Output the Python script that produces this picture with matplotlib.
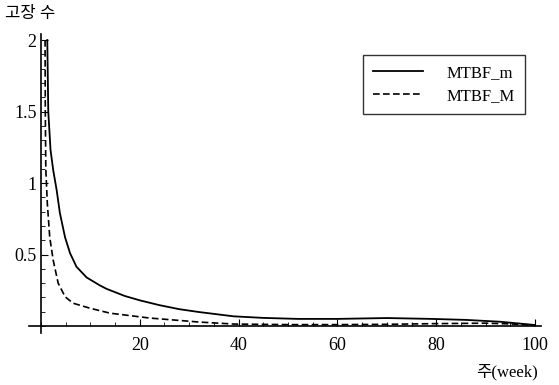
import matplotlib
matplotlib.use("Agg")
import matplotlib.pyplot as plt
from matplotlib.ticker import MultipleLocator

plt.rcParams['font.family'] = ['Liberation Serif', 'Noto Sans CJK KR']

# MTBF_m (solid)
x_m = [1.3, 1.5, 1.96, 2.5, 3.2, 3.85, 4.9, 5.9, 7.2, 9.25, 11.9, 13.3, 17, 20, 24, 28, 32, 39, 45, 52, 60, 70, 79, 86, 93, 97, 100]
y_m = [2.0, 1.5, 1.23, 1.09, 0.95, 0.79, 0.62, 0.51, 0.415, 0.34, 0.285, 0.26, 0.21, 0.18, 0.146, 0.118, 0.098, 0.068, 0.057, 0.05, 0.05, 0.056, 0.05, 0.043, 0.03, 0.017, 0.007]
# MTBF_M (dashed)
x_M = [0.85, 0.9, 1.0, 1.3, 1.8, 2.5, 3.5, 4.9, 6.5, 9.9, 14, 22, 32, 39, 50, 60, 70, 80, 90, 95, 100]
y_M = [2.0, 1.5, 1.1, 0.86, 0.62, 0.46, 0.3, 0.205, 0.16, 0.125, 0.09, 0.056, 0.028, 0.014, 0.01, 0.01, 0.012, 0.017, 0.02, 0.015, 0.005]

x_ticks = [20, 40, 60, 80, 100]
y_ticks = [0.5, 1, 1.5, 2]
y_label = "고장 수"
x_label = "주(week)"

fig = plt.figure(figsize=(5.59, 3.85), dpi=100)
ax = fig.add_axes([29/559, 1 - 333.2/385, 512/559, 298.9/385])

ax.plot(x_m, y_m, color='black', lw=1.3, label='MTBF_m')
ax.plot(x_M, y_M, color='black', lw=1.2, ls=(0, (4, 2)), label='MTBF_M')

ax.set_xlim(-2.4, 101.2)
ax.set_ylim(-0.05, 2.04)
for s in ['top', 'right']:
    ax.spines[s].set_visible(False)
ax.spines['left'].set_position(('data', 0))
ax.spines['bottom'].set_position(('data', 0))
ax.spines['left'].set_linewidth(1.2)
ax.spines['bottom'].set_linewidth(1.2)

ax.set_xticks(x_ticks)
ax.set_xticklabels([str(t) for t in x_ticks])
ax.set_yticks(y_ticks)
ax.set_yticklabels(['0.5', '1', '1.5', '2'])
ax.xaxis.set_minor_locator(MultipleLocator(5))
ax.yaxis.set_minor_locator(MultipleLocator(0.1))
ax.tick_params(axis='both', which='major', direction='in', length=5, width=0.8, labelsize=13)
ax.tick_params(axis='both', which='minor', direction='in', length=3, width=0.6)
ax.tick_params(axis='x', pad=8)
ax.tick_params(axis='y', pad=3)

fig.text(5/559, 1 - 14/385, y_label, fontsize=12, va='center', ha='left')
fig.text(538/559, 1 - 372/385, x_label, fontsize=12, va='center', ha='right')

leg = ax.legend(loc='upper left', bbox_to_anchor=((363-29)/512, 1 - (55-34.3)/298.9),
                frameon=True, fancybox=False, edgecolor='black', fontsize=12,
                handlelength=3, borderpad=0.6, labelspacing=0.4, handletextpad=1.4, borderaxespad=0)
leg.get_frame().set_linewidth(1.0)

fig.savefig('out.png', dpi=100)
